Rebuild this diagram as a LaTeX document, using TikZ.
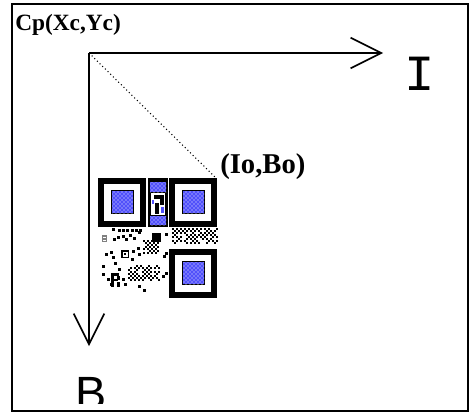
\documentclass[tikz,border=0pt]{standalone}
\usepackage{fontspec}
\setmainfont{Liberation Serif}
\newfontfamily\monof{Liberation Mono}
\newfontfamily\sansf{Liberation Sans}
\usetikzlibrary{arrows.meta,patterns}
\definecolor{qrblue}{RGB}{80,80,250}
\tikzset{
  frame/.style={draw=black, line width=1.5pt},
  axis/.style={draw=black, line width=1.2pt, -{Straight Barb[length=23pt,width=23pt,line width=1.2pt]}},
  guide/.style={draw=black, line width=0.8pt, dotted},
  label/.style={font=\bfseries\fontsize{17.5}{20}\selectfont, inner sep=0pt},
  biglabel/.style={font=\bfseries\fontsize{21.5}{24}\selectfont, inner sep=0pt},
  axlabelI/.style={font=\monof\fontsize{38}{40}\selectfont, inner sep=0pt},
  axlabelB/.style={font=\sansf\fontsize{35}{38}\selectfont, inner sep=0pt},
  dot/.style={fill=black},
  bluefill/.style={fill=qrblue},
  dotsfill/.style={pattern=crosshatch dots, pattern color=white}
}
\newcommand{\qrfinder}[2]{%
  \fill[black] (#1,#2) rectangle ++(48,49);
  \fill[white] (#1+6,#2+6) rectangle ++(36,37);
  \fill[black] (#1+13,#2+12) rectangle ++(23,24);
  \fill[bluefill] (#1+14,#2+13) rectangle ++(21,22);
  \fill[dotsfill] (#1+14,#2+13) rectangle ++(21,22);
}
\newcommand{\qrchecker}[5]{% x y cols rows seed
  \pgfmathsetseed{#5}%
  \foreach \i in {0,...,#3}{\foreach \j in {0,...,#4}{%
    \pgfmathtruncatemacro\k{mod(\i+\j,2)}%
    \pgfmathrandominteger{\r}{0}{4}%
    \ifnum\k=0 \ifnum\r>0 \fill (#1+2*\i,#2+2*\j) rectangle ++(2,2);\fi\fi
  }}%
}
\begin{document}
\begin{tikzpicture}[x=0.75pt,y=-0.75pt]
\useasboundingbox (0,0) rectangle (473,414);
\draw[frame] (12,4) rectangle (468,411);

% labels
\node[label, anchor=base west] (cp) at (15,30) {Cp(Xc,Yc)};
\node[biglabel, anchor=base west] (iobo) at (220,173) {(Io,Bo)};
\node[axlabelI, anchor=base] (ilab) at (420,90) {I};
\begin{scope}
\clip (40,360) rectangle (140,403);
\node[axlabelB, anchor=base] (blab) at (91.5,409) {B};
\end{scope}

% axes
\coordinate (O) at (89,53);
\coordinate (Iend) at (383,53);
\coordinate (Bend) at (89,346);
\coordinate (P) at (216,178);
\draw[axis] (O) -- (Iend);
\draw[axis] (O) -- (Bend);
\draw[guide] (O) -- (P);

% QR code
\qrfinder{98}{178}
\qrfinder{169}{178}
\qrfinder{169}{249}

% middle column
\fill[black] (148,178) rectangle (168,227);
\fill[bluefill] (150,182) rectangle (166,192);
\fill[dotsfill] (150,182) rectangle (166,192);
\fill[bluefill] (150,216) rectangle (166,225);
\fill[dotsfill] (150,216) rectangle (166,225);
\fill[white] (151,193) rectangle (165,215);
\fill[black] (154,195) rectangle (164,199);
\fill[black] (160,199) rectangle (164,205);
\fill[black] (155,203) rectangle (159,214);
\fill[bluefill] (161,207) rectangle (164,213);
\fill[bluefill] (152,200) rectangle (154,204);

% scattered modules
\foreach \x/\y in {112/228,118/229,122/229,126/229,131/229,135/229,139/229,
  113/238,117/236,122/235,125/238,129/234,133/237,138/231,
  152/233,155/233,158/233,152/236,155/236,158/236,152/239,155/239,158/239,
  105/253,110/251,112/256,132/250,137/247,138/253,163/255,165/233,165/252,165/272,
  102/265,102/273,107/278,110/283,122/278,124/283,138/285,143/289,162/275,118/268,
  114/262,131/258}
  \fill[dot] (\x,\y) rectangle ++(2.5,2.5);
% small box module
\fill[black] (121,250) rectangle (129,258);
\fill[white] (122.5,251.5) rectangle (127.5,256.5);
\fill[black] (124,253) rectangle (126,255);
% R-like module
\fill[black] (111,273) rectangle (114,287);
\fill[black] (114,273) rectangle (119,276);
\fill[black] (117,276) rectangle (120,280);
\fill[black] (114,279) rectangle (118,281);
\fill[black] (117,282) rectangle (120,287);
% grey module
\fill[gray] (102,235) rectangle (107,242);
\fill[white] (103,237) rectangle (106,238);
\fill[white] (103,239.5) rectangle (106,240.5);
% checker clusters
\qrchecker{143}{240}{7}{6}{3}
\qrchecker{128}{265}{15}{7}{5}
\qrchecker{172}{228}{22}{7}{9}
\end{tikzpicture}
\end{document}
